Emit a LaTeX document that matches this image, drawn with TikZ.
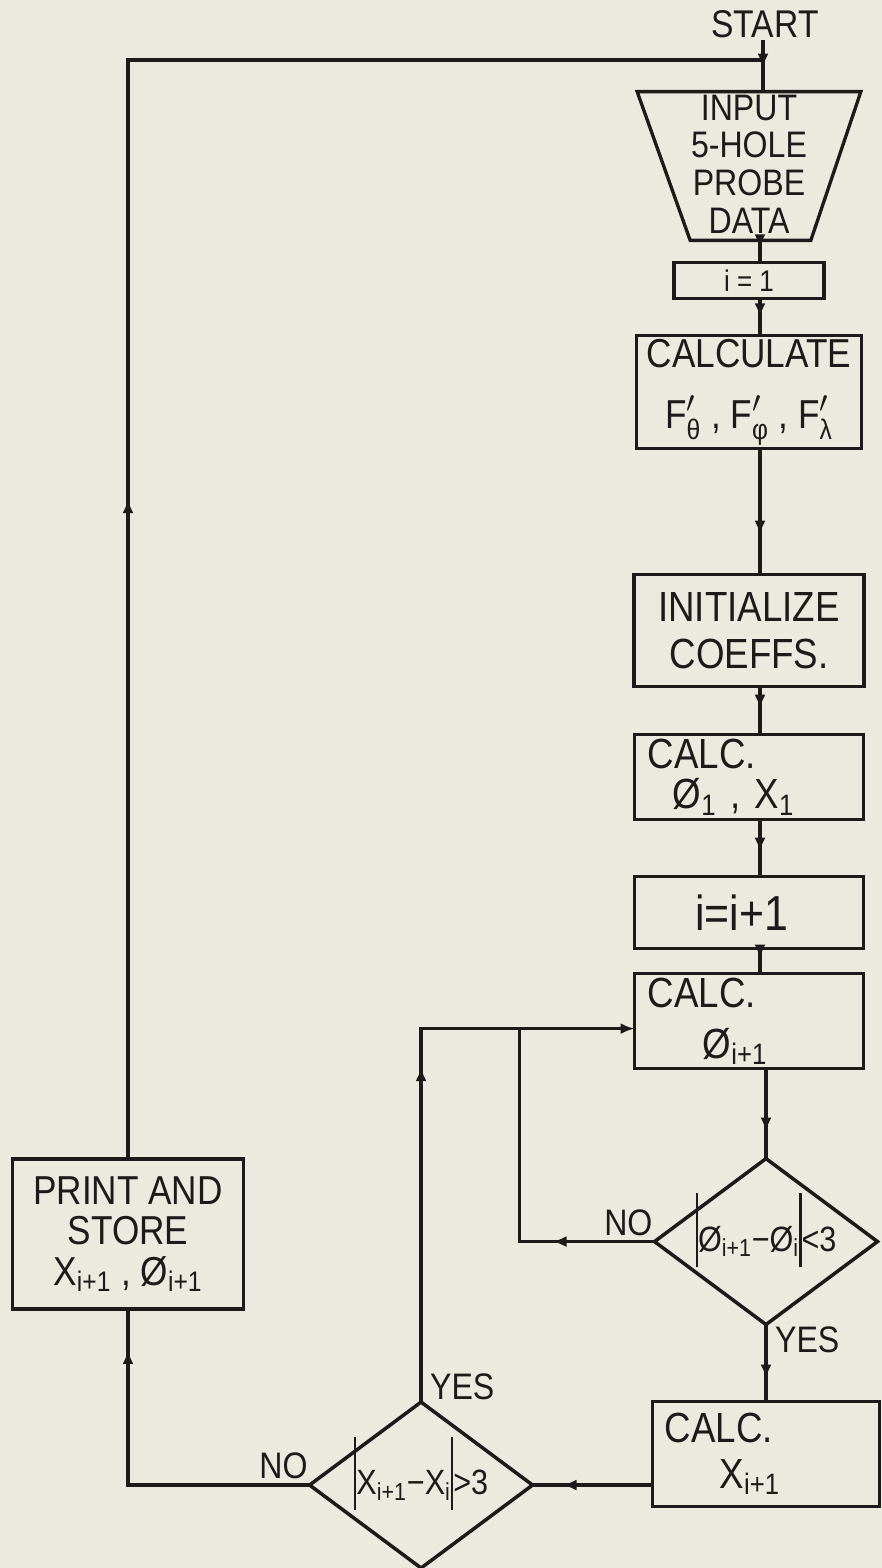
\documentclass[tikz,border=0pt]{standalone}
\usepackage{amsmath}
\usepackage{fontspec}
\setmainfont{Liberation Sans}[FakeStretch=0.87]
\usetikzlibrary{arrows.meta,positioning,shapes.geometric,decorations.markings}

\definecolor{paper}{RGB}{236,234,223}
\definecolor{ink}{RGB}{28,27,25}

\newcommand\Fp[1]{$\text{F}'_{\text{#1}}$}
\newcommand\absbar{\smash{\rule[-9pt]{1.4pt}{42pt}}}

\begin{document}
\begin{tikzpicture}[
    x=0.02cm, y=-0.02cm,
    color=ink,
    box/.style={draw,line width=1.9pt,outer sep=0pt,align=center,inner sep=2pt,font=\fontsize{24}{27}\selectfont},
    decision/.style={draw,diamond,aspect=1.34,inner sep=0pt,outer sep=0pt,line width=2pt,minimum width=4.46cm,minimum height=3.32cm,font=\fontsize{20}{22}\selectfont},
    lbl/.style={inner sep=1pt,font=\fontsize{21}{23}\selectfont},
    flow/.style={line width=1.8pt},
    arrowat/.style={postaction={decorate},decoration={markings,mark=at position #1 with {\arrow{Latex[length=0.28cm,width=0.22cm]}}}},
    tip/.style={-{Latex[length=0.28cm,width=0.22cm]}}
]
\path[use as bounding box,fill=paper] (0,0) rectangle (882,1568);

\node[lbl,font=\fontsize{22}{24}\selectfont] (start) at (765,24) {START};
\node[align=center,inner sep=0pt,minimum width=4.46cm,minimum height=2.96cm,font=\fontsize{21}{21.5}\selectfont] (input) at (749,164) {INPUT\\5-HOLE\\PROBE\\DATA};
\draw[line width=1.9pt] ([yshift=-0.04cm]input.north west) -- ([yshift=-0.04cm]input.north east) -- ([xshift=-1cm,yshift=-0.04cm]input.south east) -- ([xshift=1.06cm,yshift=-0.04cm]input.south west) -- cycle;

\node[box,minimum width=3cm,minimum height=0.72cm,font=\fontsize{17}{18}\selectfont,below=0.48cm of input] (ione) {i = 1};
\node[box,minimum width=4.5cm,minimum height=2.24cm,font=\fontsize{23}{26}\selectfont,below=0.74cm of ione] (calcF) {CALCULATE\\[9pt]\Fp{θ} , \Fp{φ} , \Fp{λ}};
\node[box,minimum width=4.6cm,minimum height=2.24cm,below=2.52cm of calcF] (init) {INITIALIZE\\COEFFS.};
\node[box,minimum width=4.58cm,minimum height=1.7cm,text width=4.05cm,align=left,font=\fontsize{24}{23}\selectfont,below=0.96cm of init] (calcone) {CALC.\\\hspace*{0.5cm}Ø\textsubscript{1} , X\textsubscript{1}};
\node[box,minimum width=4.58cm,minimum height=1.44cm,font=\fontsize{28}{30}\selectfont,below=1.14cm of calcone] (incr) {i=i+1\hspace*{0.3cm}};
\node[box,minimum width=4.58cm,minimum height=1.9cm,text width=4.05cm,align=left,font=\fontsize{24}{29}\selectfont,below=0.5cm of incr] (calcphi) {CALC.\\\hspace*{1.1cm}Ø\textsubscript{i+1}};
\node[decision,below=1.8cm of calcphi,xshift=0.34cm] (dia1) {\absbar Ø\textsubscript{i+1}−Ø\textsubscript{i}\absbar<3};
\node[box,minimum width=4.54cm,minimum height=2.1cm,text width=4.05cm,align=left,font=\fontsize{24}{26}\selectfont,below=1.54cm of dia1] (calcx) {CALC.\\\hspace*{1.1cm}X\textsubscript{i+1}};
\node[decision,left=2.4cm of calcx,yshift=-0.62cm] (dia2) {\absbar X\textsubscript{i+1}−X\textsubscript{i}\absbar>3};
\node[box,minimum width=4.62cm,minimum height=3cm,inner sep=0pt,font=\fontsize{23}{23}\selectfont] (print) at (128,1234) {PRINT AND\\STORE\\X\textsubscript{i+1} , Ø\textsubscript{i+1}};

\node[lbl,anchor=south east] (no1) at ([yshift=0.08cm]dia1.west) {NO};
\node[lbl,anchor=north west] (yes1) at ([xshift=0.14cm]dia1.south) {YES};
\node[lbl,anchor=south west] (yes2) at ([xshift=0.14cm]dia2.north) {YES};
\node[lbl,anchor=south east] (no2) at ([yshift=0.08cm]dia2.west) {NO};

\coordinate (spine) at (760,0);
\coordinate (corner) at (763,60);
\coordinate (feed) at ([yshift=-0.15cm]calcphi.west);
\coordinate (merge) at ([xshift=-2.3cm]feed);

\draw[flow,arrowat=-0.48cm] (start.south -| corner) -- ([yshift=-0.04cm]input.north -| corner);
\draw[flow,arrowat=13.2cm] (print.north) |- (corner);
\draw[flow,arrowat=-0.28cm] ([yshift=-0.04cm]input.south -| spine) -- (ione.north -| spine);
\draw[flow,arrowat=-0.36cm] (ione.south -| spine) -- (calcF.north -| spine);
\draw[flow,arrowat=-0.8cm] (calcF.south -| spine) -- (init.north -| spine);
\draw[flow,arrowat=-0.52cm] (init.south -| spine) -- (calcone.north -| spine);
\draw[flow,arrowat=-0.5cm] (calcone.south -| spine) -- (incr.north -| spine);
\draw[flow,arrowat=-0.3cm] (incr.south -| spine) -- (calcphi.north -| spine);
\draw[flow,arrowat=-0.54cm] (calcphi.south -| dia1.north) -- (dia1.north);
\draw[flow,arrowat=-0.46cm] (dia1.south) -- (calcx.north);
\draw[flow,arrowat=-0.6cm] (calcx.west |- dia2.east) -- (dia2.east);
\draw[flow,tip,arrowat=6.7cm] (dia2.north) |- (feed);
\draw[flow,arrowat=2.04cm] (dia1.west) -| (merge);
\draw[flow,arrowat=-0.82cm] (dia2.west) -| (print.south);

\end{tikzpicture}
\end{document}
